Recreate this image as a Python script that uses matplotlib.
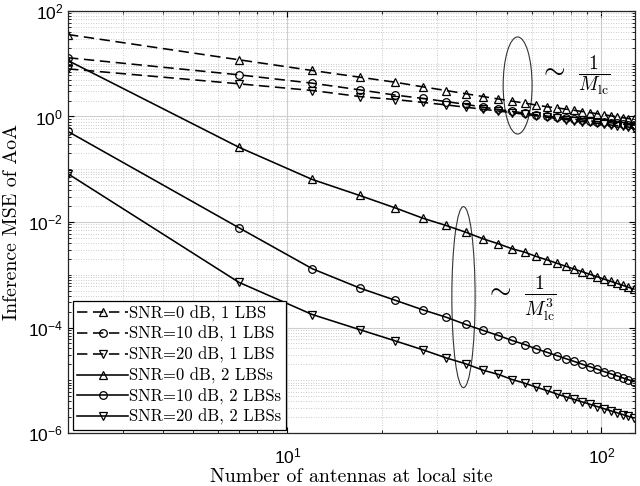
import numpy as np
import matplotlib
matplotlib.use("Agg")
import matplotlib.pyplot as plt
import matplotlib.ticker as mticker
from matplotlib.patches import Ellipse

plt.rcParams['font.family'] = ['Liberation Sans', 'DejaVu Sans']
plt.rcParams['axes.formatter.use_mathtext'] = True

# number of antennas at the local site
M = [2, 7, 12, 17, 22, 27, 32, 37, 42, 47, 52, 57, 62, 67, 72, 77, 82, 87,
     92, 97, 102, 107, 112, 117, 122, 127]

# 1 LBS (dashed)
mse_1lbs_0db = [35.8, 11.9, 7.45, 5.56, 4.47, 3.65, 3.11, 2.70, 2.39, 2.15,
                1.95, 1.80, 1.65, 1.53, 1.46, 1.38, 1.31, 1.24, 1.18, 1.13,
                1.08, 1.03, 0.99, 0.95, 0.915, 0.88]
mse_1lbs_10db = [13.0, 6.17, 4.28, 3.2, 2.55, 2.2, 1.92, 1.70, 1.50, 1.36,
                 1.25, 1.16, 1.08, 1.02, 0.97, 0.93, 0.89, 0.86, 0.83, 0.80,
                 0.78, 0.76, 0.74, 0.72, 0.70, 0.68]
mse_1lbs_20db = [8.0, 4.17, 3.11, 2.39, 2.1, 1.85, 1.66, 1.50, 1.37, 1.27,
                 1.18, 1.10, 1.03, 0.97, 0.92, 0.875, 0.835, 0.80, 0.77, 0.74,
                 0.715, 0.69, 0.67, 0.65, 0.63, 0.61]

# 2 LBSs (solid)
mse_2lbs_0db = [11.5, 0.262, 0.064, 0.0318, 0.0186, 0.0118, 0.0086, 6.4e-3,
                4.8e-3, 3.86e-3, 3.1e-3, 2.68e-3, 2.22e-3, 1.92e-3, 1.66e-3,
                1.45e-3, 1.28e-3, 1.137e-3, 1.017e-3, 9.15e-4, 8.27e-4,
                7.52e-4, 6.86e-4, 6.29e-4, 5.78e-4, 5.34e-4]
mse_2lbs_10db = [0.52, 0.0078, 1.3e-3, 5.6e-4, 3.3e-4, 2.16e-4, 1.57e-4,
                 1.14e-4, 8.8e-5, 7.05e-5, 5.67e-5, 4.76e-5, 3.94e-5, 3.4e-5,
                 2.94e-5, 2.57e-5, 2.27e-5, 2.01e-5, 1.80e-5, 1.62e-5,
                 1.46e-5, 1.33e-5, 1.215e-5, 1.11e-5, 1.02e-5, 9.45e-6]
mse_2lbs_20db = [0.082, 7.2e-4, 1.76e-4, 9.1e-5, 5.6e-5, 3.78e-5, 2.66e-5,
                 2.05e-5, 1.55e-5, 1.29e-5, 1.03e-5, 8.8e-6, 7.4e-6, 6.4e-6,
                 5.5e-6, 4.86e-6, 4.32e-6, 3.88e-6, 3.50e-6, 3.17e-6, 2.89e-6,
                 2.64e-6, 2.43e-6, 2.24e-6, 2.07e-6, 1.93e-6]

labels = ['SNR=0 dB, 1 LBS', 'SNR=10 dB, 1 LBS', 'SNR=20 dB, 1 LBS',
          'SNR=0 dB, 2 LBSs', 'SNR=10 dB, 2 LBSs', 'SNR=20 dB, 2 LBSs']

fig = plt.figure(figsize=(6.4, 4.86), dpi=100)
ax = fig.add_axes([68/640, 53/486, 567/640, 422/486])

series = [mse_1lbs_0db, mse_1lbs_10db, mse_1lbs_20db,
          mse_2lbs_0db, mse_2lbs_10db, mse_2lbs_20db]
markers = ['^', 'o', 'v', '^', 'o', 'v']
for i, (y, mk, lab) in enumerate(zip(series, markers, labels)):
    ls = (0, (6.5, 3.5)) if i < 3 else '-'
    ax.plot(M, y, color='black', linestyle=ls, linewidth=1.15, marker=mk,
            markersize=5.5, markerfacecolor='none', markeredgewidth=0.9,
            label=lab)

ax.set_xscale('log')
ax.set_yscale('log')
ax.set_xlim(2, 128)
ax.set_ylim(1e-6, 1e2)

ax.yaxis.set_major_locator(mticker.FixedLocator([1e-6, 1e-4, 1e-2, 1e0, 1e2]))
ax.yaxis.set_minor_locator(mticker.LogLocator(base=10, subs=np.arange(1, 10), numticks=50))
ax.yaxis.set_minor_formatter(mticker.NullFormatter())
ax.xaxis.set_major_locator(mticker.FixedLocator([10, 100]))
ax.xaxis.set_minor_locator(mticker.LogLocator(base=10, subs=np.arange(1, 10), numticks=50))
ax.xaxis.set_minor_formatter(mticker.NullFormatter())

ax.tick_params(which='both', direction='in', top=True, right=True, labelsize=12.5)
ax.tick_params(which='major', length=4.5, width=0.8)
ax.tick_params(which='minor', length=2.5, width=0.6)
ax.tick_params(axis='x', pad=10)
for s in ax.spines.values():
    s.set_linewidth(0.9)
    s.set_color('#262626')

ax.grid(True, which='major', color='#cfcfcf', linestyle='-', linewidth=0.8)
ax.grid(True, which='minor', color='#b8b8b8', linestyle=(0, (1, 2)), linewidth=0.6)
ax.set_axisbelow(True)

ax.set_xlabel('Number of antennas at local site', family='cmr10', fontsize=14.3, labelpad=1)
ax.set_ylabel('Inference MSE of AoA', family='cmr10', fontsize=14.3, labelpad=5)

leg = ax.legend(loc='lower left', bbox_to_anchor=(0.008, 0.008), fancybox=False,
                framealpha=1, edgecolor='black', prop={'family': 'cmr10', 'size': 12},
                handlelength=3.1, handletextpad=0.05, labelspacing=0.27,
                borderpad=0.25, borderaxespad=0)
leg.get_frame().set_linewidth(0.9)

ax.add_patch(Ellipse((0.793, 0.8235), 0.051, 0.23, transform=ax.transAxes,
                     fill=False, edgecolor='#333333', linewidth=0.8))
ax.add_patch(Ellipse((0.6975, 0.322), 0.041, 0.429, transform=ax.transAxes,
                     fill=False, edgecolor='#333333', linewidth=0.8))
ax.text(0.83, 0.848, r'$\sim\ \frac{1}{M_{\rm lc}}$', transform=ax.transAxes,
        fontsize=20, va='center', ha='left', math_fontfamily='cm')
ax.text(0.735, 0.32, r'$\sim\ \frac{1}{M_{\rm lc}^3}$', transform=ax.transAxes,
        fontsize=20, va='center', ha='left', math_fontfamily='cm')

fig.savefig('out.png', dpi=100)
